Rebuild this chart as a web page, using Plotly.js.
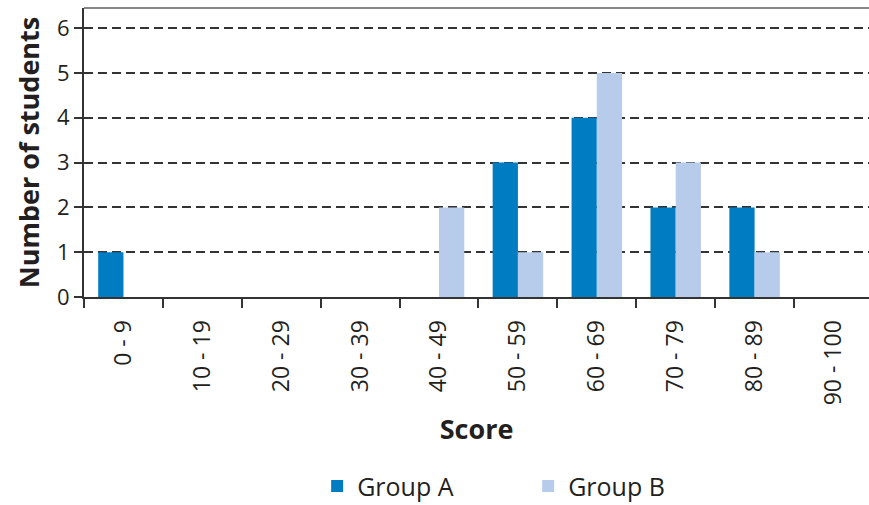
<!DOCTYPE html>
<html>
<head>
<meta charset="utf-8">
<script src="https://cdn.plot.ly/plotly-3.0.1.min.js"></script>
<style>html,body{margin:0;padding:0;background:#fff;}#chart{width:869px;height:505px;}</style>
</head>
<body>
<div id="chart"></div>
<script>
const categories = ["0 - 9","10 - 19","20 - 29","30 - 39","40 - 49","50 - 59","60 - 69","70 - 79","80 - 89","90 - 100"];
const groupA = [1,0,0,0,0,3,4,2,2,0];
const groupB = [0,0,0,0,2,1,5,3,1,0];
const yTicks = [0,1,2,3,4,5,6];

const FONT = "'Open Sans', 'Noto Sans', sans-serif";
const TXT = "#231f20";

const traces = [
  {type:"bar", name:"Group A", x:categories, y:groupA, marker:{color:"#007cc3"}, hoverinfo:"x+y"},
  {type:"bar", name:"Group B", x:categories, y:groupB, marker:{color:"#b7cceb"}, hoverinfo:"x+y"}
];

const layout = {
  width:869, height:505,
  margin:{l:84, r:0, t:8, b:208, autoexpand:false},
  paper_bgcolor:"#fff", plot_bgcolor:"#fff",
  font:{family:FONT, color:TXT},
  barmode:"group", bargap:0.36, bargroupgap:0,
  xaxis:{
    type:"category", range:[-0.5, 9.45], automargin:false,
    tickson:"boundaries", ticks:"outside", ticklen:9, tickwidth:2, tickcolor:"#333",
    ticklabelstandoff:12,
    showgrid:false, showline:true, linecolor:"#333", linewidth:2,
    tickangle:-90, tickfont:{size:23, color:TXT, family:FONT},
    title:{text:"<b>Score</b>", font:{size:27, color:TXT, family:FONT}, standoff:16},
    zeroline:false, fixedrange:true
  },
  yaxis:{
    range:[0, 6.45], tickvals:yTicks, automargin:false,
    ticks:"outside", ticklen:8, tickwidth:2, tickcolor:"#333",
    showgrid:true, gridcolor:"#333", gridwidth:2, griddash:"9px,5px",
    showline:true, linecolor:"#333", linewidth:2,
    tickfont:{size:22, color:TXT, family:FONT},
    title:{text:"<b>Number of students</b>", font:{size:27, color:TXT, family:FONT}, standoff:10},
    zeroline:false, fixedrange:true
  },
  shapes:[
    {type:"line", xref:"paper", yref:"paper", x0:0, x1:1, y0:1, y1:1, line:{color:"#888", width:2}}
  ],
  legend:{
    orientation:"h", x:0.297, xanchor:"left", y:-0.655, yanchor:"middle",
    font:{size:25, color:TXT, family:FONT}, itemwidth:30, entrywidth:166, traceorder:"normal"
  },
  showlegend:true
};

Plotly.newPlot("chart", traces, layout, {displayModeBar:false, staticPlot:true});
</script>
</body>
</html>
